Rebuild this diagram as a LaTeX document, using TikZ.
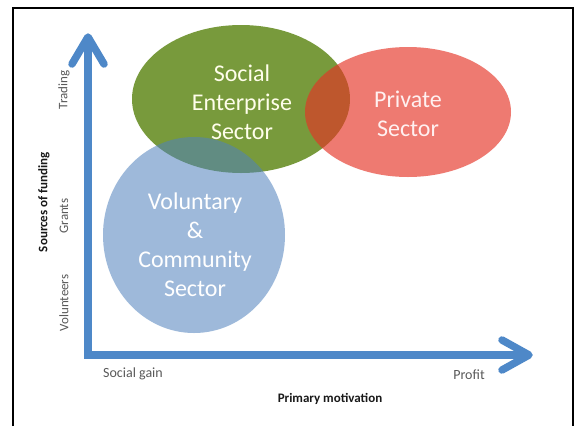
\documentclass[tikz,border=0pt]{standalone}
\usepackage{fontspec}
\setmainfont{Carlito}
\usetikzlibrary{shapes.geometric}
\definecolor{axisblue}{HTML}{4E88C8}
\definecolor{segreen}{HTML}{789A3C}
\definecolor{vcblue}{HTML}{4F81BD}
\definecolor{pvred}{HTML}{E53426}
\definecolor{ticktext}{HTML}{595959}
\tikzset{
  sector/.style={ellipse, inner sep=0pt, draw=none},
  bigtext/.style={align=center, font=\fontsize{24}{29}\selectfont, inner sep=0pt},
  ticklabel/.style={font=\fontsize{13}{15}\selectfont, text=ticktext, inner sep=0pt},
  axistitle/.style={font=\fontsize{13}{15}\selectfont\bfseries, text=black!90, inner sep=0pt},
  axisline/.style={draw=axisblue, line width=7.5pt, line join=miter},
  axishead/.style={draw=axisblue, line width=7.5pt, line cap=round, line join=round},
  frameline/.style={draw=black, line width=2.5pt}
}
\begin{document}
\begin{tikzpicture}[x=1pt,y=-1pt]
\useasboundingbox (0,0) rectangle (575,426);
\fill[white] (0,0) rectangle (575,426);
% frame
\draw[frameline] (13,426) -- (13,8) -- (573,8) -- (573,426);
% sectors
\node[sector, fill=segreen, minimum width=218pt, minimum height=148pt] (se) at (241,99) {};
\node[sector, fill=vcblue, fill opacity=0.55, minimum width=182pt, minimum height=196pt] (vc) at (194,235) {};
\node[sector, fill=pvred, fill opacity=0.65, minimum width=206pt, minimum height=130pt] (pv) at (408,112) {};
% axes
\coordinate (origin) at (88,355);
\coordinate (ytip) at (88,37);
\coordinate (xtip) at (529,355);
\draw[axisline] (ytip) -- (origin) -- (xtip);
\draw[axishead] ([xshift=-16pt,yshift=-27pt]ytip) -- (ytip) -- ([xshift=16pt,yshift=-27pt]ytip);
\draw[axishead] ([xshift=-27pt,yshift=15pt]xtip) -- (xtip) -- ([xshift=-27pt,yshift=-15pt]xtip);
% sector texts
\node[bigtext, text=white!92!yellow] (setext) at (242,102) {Social\\Enterprise\\Sector};
\node[bigtext, text=white!94!red] (pvtext) at (408,114) {Private\\Sector};
\node[bigtext, text=white] (vctext) at (195,245) {Voluntary\\\&\\Community\\Sector};
% axis labels
\node[ticklabel, rotate=90] (trading) at (64,90) {Trading};
\node[ticklabel, rotate=90] (grants) at (64,216) {Grants};
\node[ticklabel, rotate=90] (volunteers) at (64,303) {Volunteers};
\node[axistitle, rotate=90] (ytitle) at (44,202) {Sources of funding};
\node[ticklabel, font=\fontsize{14}{16}\selectfont] (socialgain) at (133,374) {Social gain};
\node[ticklabel, font=\fontsize{14}{16}\selectfont] (profit) at (469,375) {Profit};
\node[axistitle] (xtitle) at (330,399) {Primary motivation};
\end{tikzpicture}
\end{document}
